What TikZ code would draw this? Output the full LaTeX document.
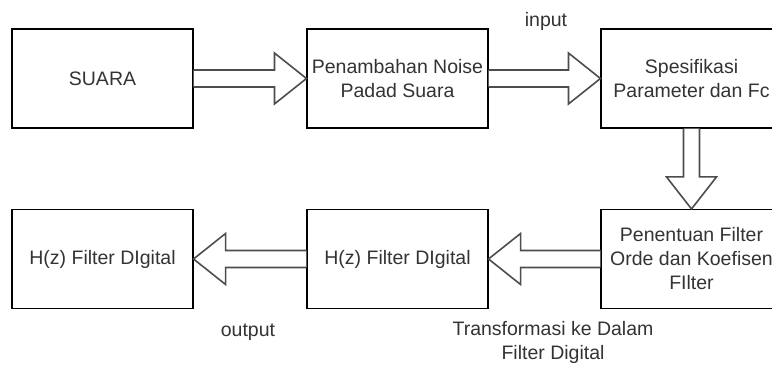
\documentclass[tikz,border=0pt]{standalone}
\usepackage{fontspec}
\setmainfont{Liberation Sans}
\usetikzlibrary{calc}
\definecolor{txt}{HTML}{333333}
\definecolor{arr}{HTML}{4D4D4D}
\begin{document}
\begin{tikzpicture}[x=1pt,y=1pt,
  box/.style={draw=black,line width=1.1pt,minimum width=181pt,minimum height=99pt,inner sep=0pt,align=center,text=txt,font=\fontsize{19.5}{24}\selectfont},
  lbl/.style={align=center,text=txt,font=\fontsize{19.5}{24}\selectfont,inner sep=0pt},
  blockarrow/.style={draw=arr,line width=1.6pt,fill=white,line join=miter}]
\useasboundingbox (0,0) rectangle (772,367);
\clip (0,0) rectangle (772,367);
\node[box] (suara) at (102.5,288.5) {SUARA};
\node[box] (noise) at (397.5,288.5) {Penambahan Noise\\Padad Suara};
\node[box] (spek) at (691.5,288.5) {Spesifikasi\\Parameter dan Fc};
\node[box] (hz1) at (102.5,108) {H(z) Filter DIgital};
\node[box] (hz2) at (397.5,108) {H(z) Filter DIgital};
\node[box] (orde) at (691.5,108) {Penentuan Filter\\Orde dan Koefisen\\FIlter};
% right arrows
\draw[blockarrow] ($(suara.east)+(0,8.5)$) -- ($(noise.west)+(-32,8.5)$) -- ($(noise.west)+(-32,25.5)$) -- (noise.west) -- ($(noise.west)+(-32,-25.5)$) -- ($(noise.west)+(-32,-8.5)$) -- ($(suara.east)+(0,-8.5)$);
\draw[blockarrow] ($(noise.east)+(0,8.5)$) -- ($(spek.west)+(-32,8.5)$) -- ($(spek.west)+(-32,25.5)$) -- (spek.west) -- ($(spek.west)+(-32,-25.5)$) -- ($(spek.west)+(-32,-8.5)$) -- ($(noise.east)+(0,-8.5)$);
% down arrow
\draw[blockarrow] ($(spek.south)+(-8,0)$) -- ($(orde.north)+(-8,32)$) -- ($(orde.north)+(-25,32)$) -- (orde.north) -- ($(orde.north)+(25,32)$) -- ($(orde.north)+(8,32)$) -- ($(spek.south)+(8,0)$);
% left arrows
\draw[blockarrow] ($(orde.west)+(0,8.5)$) -- ($(hz2.east)+(32,8.5)$) -- ($(hz2.east)+(32,25.5)$) -- (hz2.east) -- ($(hz2.east)+(32,-25.5)$) -- ($(hz2.east)+(32,-8.5)$) -- ($(orde.west)+(0,-8.5)$);
\draw[blockarrow] ($(hz2.west)+(0,8.5)$) -- ($(hz1.east)+(32,8.5)$) -- ($(hz1.east)+(32,25.5)$) -- (hz1.east) -- ($(hz1.east)+(32,-25.5)$) -- ($(hz1.east)+(32,-8.5)$) -- ($(hz2.west)+(0,-8.5)$);
% labels
\node[lbl] (input) at (546,346) {input};
\node[lbl] (output) at (248,35) {output};
\node[lbl] (trans) at (553,25) {Transformasi ke Dalam\\Filter Digital};
\end{tikzpicture}
\end{document}
